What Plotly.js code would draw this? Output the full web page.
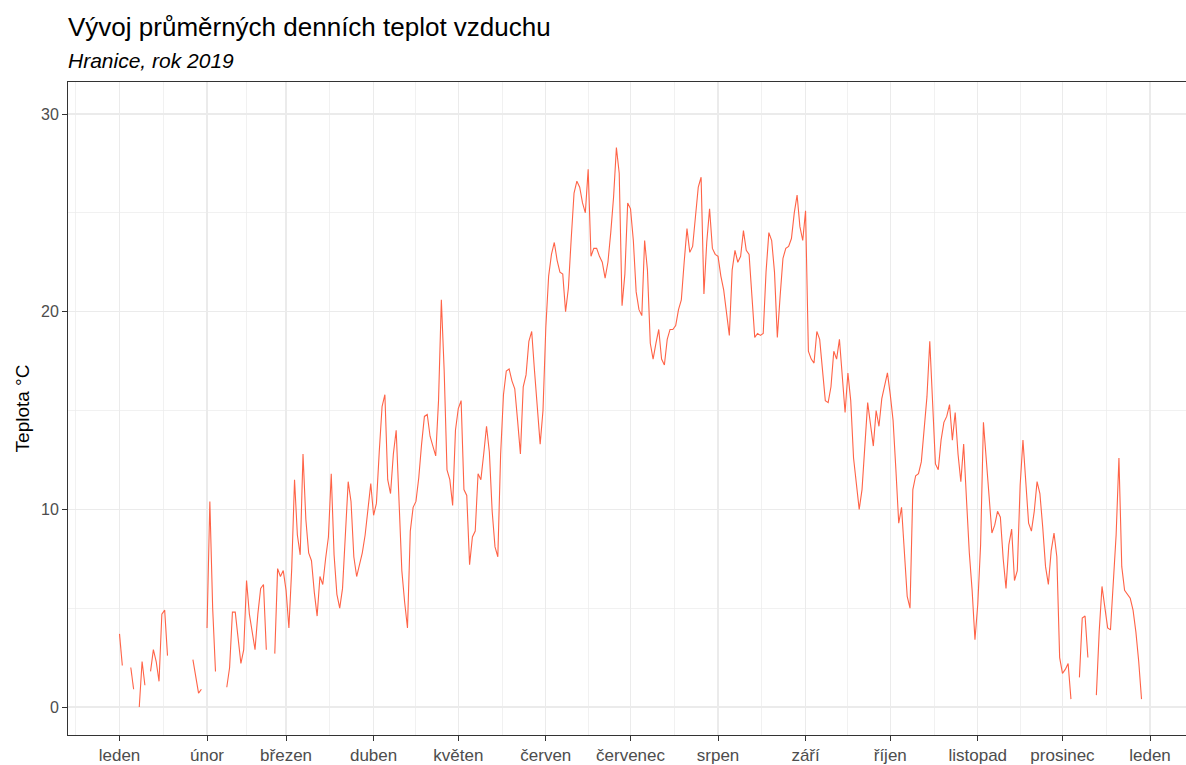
<!DOCTYPE html>
<html>
<head>
<meta charset="utf-8">
<script src="https://cdn.plot.ly/plotly-3.0.1.min.js"></script>
<style>
  html, body { margin: 0; padding: 0; background: #ffffff; overflow: hidden; }
  #chart { width: 1186px; height: 765px; }
</style>
</head>
<body>
<div id="chart"></div>
<script>
// Průměrné denní teploty vzduchu, Hranice 2019 (°C), null = chybějící měření
const leden    = [3.7, 2.1, null, null, 2.0, 0.9, null, 0.0, 2.3, 1.1, null, 1.8, 2.9, 2.3, 1.3, 4.7, 4.9, 2.6, null, null, null, null, null, null, null, null, 2.4, 1.6, 0.7, 0.9, null];
const unor     = [4.0, 10.4, 5.0, 1.8, null, null, null, 1.0, 2.0, 4.8, 4.8, 3.5, 2.2, 2.9, 6.4, 4.7, 3.8, 2.9, 4.7, 6.0, 6.2, 2.9, null, null, 2.7, 7.0, 6.6, 6.9];
const brezen   = [5.9, 4.0, 7.0, 11.5, 8.7, 7.7, 12.8, 9.5, 7.8, 7.4, 5.8, 4.6, 6.6, 6.2, 7.5, 8.6, 11.8, 7.7, 5.7, 5.0, 6.0, 8.8, 11.4, 10.4, 7.6, 6.6, 7.2, 7.8, 8.7, 10.0, 11.3];
const duben    = [9.7, 10.3, 12.9, 15.2, 15.8, 11.5, 10.8, 12.8, 14.0, 10.0, 6.9, 5.3, 4.0, 8.9, 10.1, 10.4, 11.6, 13.3, 14.7, 14.8, 13.7, 13.2, 12.7, 15.5, 20.6, 17.0, 12.0, 11.5, 10.2, 14.0];
const kveten   = [15.1, 15.5, 11.0, 10.7, 7.2, 8.6, 8.9, 11.8, 11.5, 12.8, 14.2, 12.9, 9.9, 8.1, 7.6, 12.8, 15.8, 17.0, 17.1, 16.5, 16.1, 14.5, 12.8, 16.2, 16.8, 18.5, 19.0, 17.0, 15.0, 13.3, 15.0];
const cerven   = [19.2, 21.8, 22.9, 23.5, 22.6, 22.0, 21.9, 20.0, 21.2, 23.7, 26.0, 26.6, 26.3, 25.5, 25.0, 27.2, 22.8, 23.2, 23.2, 22.8, 22.5, 21.7, 22.5, 24.0, 25.8, 28.3, 27.0, 20.3, 21.9, 25.5];
const cervenec = [25.2, 23.6, 21.0, 20.1, 19.8, 23.6, 22.1, 18.4, 17.6, 18.4, 19.1, 17.6, 17.3, 18.6, 19.1, 19.1, 19.3, 20.1, 20.6, 22.5, 24.2, 23.0, 23.3, 24.8, 26.3, 26.8, 20.9, 23.5, 25.2, 23.2, 22.9];
const srpen    = [22.8, 21.8, 21.1, 20.0, 18.8, 22.1, 23.1, 22.5, 22.8, 24.1, 23.1, 22.9, 20.8, 18.7, 18.9, 18.8, 18.9, 22.0, 24.0, 23.6, 22.0, 18.7, 20.8, 22.7, 23.2, 23.3, 23.7, 25.0, 25.9, 24.3, 23.6];
const zari     = [25.1, 18.0, 17.6, 17.4, 19.0, 18.6, 17.0, 15.5, 15.4, 16.2, 18.0, 17.6, 18.6, 16.6, 14.9, 16.9, 15.5, 12.6, 11.3, 10.0, 11.0, 13.2, 15.4, 14.3, 13.2, 15.0, 14.2, 15.6, 16.3, 16.9];
const rijen    = [15.8, 14.5, 12.0, 9.3, 10.1, 8.0, 5.6, 5.0, 11.0, 11.7, 11.8, 12.4, 13.9, 15.7, 18.5, 15.0, 12.3, 12.0, 13.5, 14.4, 14.7, 15.3, 13.5, 14.9, 12.8, 11.4, 13.3, 10.5, 7.8, 5.9, 3.4];
const listopad = [5.2, 8.2, 14.4, 12.5, 10.4, 8.8, 9.2, 9.9, 9.6, 7.5, 6.0, 8.2, 9.0, 6.4, 6.9, 11.2, 13.5, 11.3, 9.3, 8.9, 9.9, 11.4, 10.8, 9.1, 7.1, 6.2, 7.9, 8.8, 7.6, 2.5];
const prosinec = [1.7, 1.9, 2.2, 0.4, null, null, 1.5, 4.5, 4.6, 2.5, null, null, 0.6, 3.8, 6.1, 5.1, 4.0, 3.9, 6.4, 8.7, 12.6, 7.1, 5.9, 5.7, 5.5, 4.9, 3.8, 2.3, 0.4, null, null];

const mesice = [leden, unor, brezen, duben, kveten, cerven, cervenec, srpen, zari, rijen, listopad, prosinec];
const nazvyMesicu = ["leden", "únor", "březen", "duben", "květen", "červen", "červenec", "srpen", "září", "říjen", "listopad", "prosinec", "leden"];

// build x (calendar dates) and y (values)
const pad = n => (n < 10 ? "0" + n : "" + n);
const datumy = [];
const teploty = [];
mesice.forEach((m, i) => {
  m.forEach((v, j) => {
    datumy.push("2019-" + pad(i + 1) + "-" + pad(j + 1));
    teploty.push(v);
  });
});

// month ticks and mid-month minor grid
const t = s => new Date(s + "T00:00:00Z").getTime();
const iso = ms => new Date(ms).toISOString().replace("T", " ").replace("Z", "").slice(0, 19);
const majorMs = [];
majorMs.push(t("2018-12-01"));
for (let i = 1; i <= 12; i++) majorMs.push(t("2019-" + pad(i) + "-01"));
majorMs.push(t("2020-01-01"));
majorMs.push(t("2020-02-01"));
const tickVals = majorMs.slice(1, 14).map(iso);
const minorVals = [];
for (let i = 0; i < majorMs.length - 1; i++) minorVals.push(iso((majorMs[i] + majorMs[i + 1]) / 2));

// axis range: Jan 1 2019 at px 119.5, Jan 1 2020 at px 1150, plot area 68..1186
const plotL = 68, plotR = 1186, x0px = 119.5, x1px = 1150;
const msPerPx = (t("2020-01-01") - t("2019-01-01")) / (x1px - x0px);
const xr = [iso(t("2019-01-01") - (x0px - plotL) * msPerPx), iso(t("2019-01-01") + (plotR - x0px) * msPerPx)];

// y range: 0 at px 707, 30 at px 114, panel 82..735
const plotT = 82, plotB = 735, y0px = 707, y30px = 114;
const uPerPx = 30 / (y0px - y30px);
const yr = [-(plotB - y0px) * uPerPx, (y0px - plotT) * uPerPx];

const font = "Liberation Sans, Arial, sans-serif";

const trace = {
  x: datumy, y: teploty, type: "scatter", mode: "lines",
  connectgaps: false,
  line: { color: "#FF6347", width: 1.1 },
  hoverinfo: "x+y"
};

const layout = {
  width: 1186, height: 765,
  margin: { l: plotL, r: 1186 - plotR, t: plotT, b: 765 - plotB },
  paper_bgcolor: "#ffffff", plot_bgcolor: "#ffffff",
  showlegend: false,
  font: { family: font, color: "#4D4D4D" },
  title: {
    text: "Vývoj průměrných denních teplot vzduchu",
    font: { family: font, size: 26, color: "#000000" },
    x: 0, xref: "paper", xanchor: "left",
    y: 1 - 27 / 765, yref: "container", yanchor: "middle"
  },
  annotations: [{
    text: "<i>Hranice, rok 2019</i>",
    font: { family: font, size: 21, color: "#000000" },
    xref: "paper", yref: "paper", x: 0, xanchor: "left", xshift: -2,
    y: 1 + (82 - 60) / (plotB - plotT), yanchor: "middle", showarrow: false
  }],
  xaxis: {
    type: "date", range: xr, tickmode: "array", tickvals: tickVals, ticktext: nazvyMesicu,
    showgrid: true, gridcolor: "#EBEBEB", gridwidth: 1.3,
    minor: { tickmode: "array", tickvals: minorVals, showgrid: true, gridcolor: "#EBEBEB", gridwidth: 0.7, ticks: "" },
    ticks: "outside", ticklen: 5, tickwidth: 1, tickcolor: "#333333",
    tickfont: { family: font, size: 17, color: "#4D4D4D" },
    showline: true, linecolor: "#333333", linewidth: 1, mirror: true,
    zeroline: false, fixedrange: true
  },
  yaxis: {
    range: yr, tickmode: "array", tickvals: [0, 10, 20, 30],
    showgrid: true, gridcolor: "#EBEBEB", gridwidth: 1.3,
    minor: { tickmode: "array", tickvals: [5, 15, 25], showgrid: true, gridcolor: "#EBEBEB", gridwidth: 0.7, ticks: "" },
    ticks: "outside", ticklen: 5, tickwidth: 1, tickcolor: "#333333",
    tickfont: { family: font, size: 16, color: "#4D4D4D" },
    showline: true, linecolor: "#333333", linewidth: 1, mirror: true,
    zeroline: false, fixedrange: true,
    title: { text: "Teplota °C", font: { family: font, size: 19, color: "#000000" }, standoff: 6 }
  }
};

Plotly.newPlot("chart", [trace], layout, { displayModeBar: false, staticPlot: true });
</script>
</body>
</html>
